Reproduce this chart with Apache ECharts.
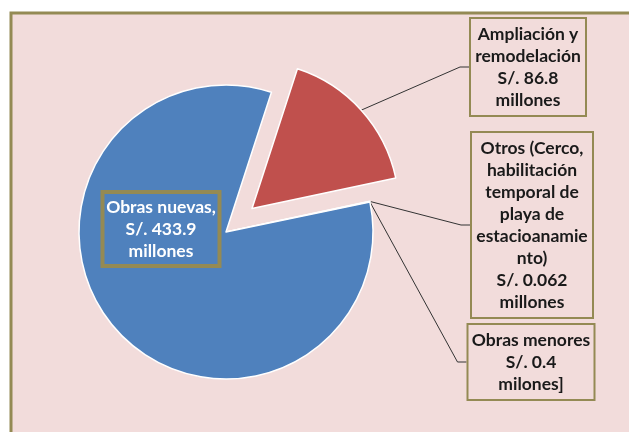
<!DOCTYPE html>
<html>
<head>
<meta charset="utf-8">
<script src="https://cdn.jsdelivr.net/npm/echarts@6/dist/echarts.min.js"></script>
<style>
  html, body { margin: 0; padding: 0; background: #ffffff; }
  #pie1 { width: 629px; height: 432px; }
</style>
</head>
<body>
<div id="pie1"></div>
<script>
// slices, in drawing order (clockwise)
const categories = [
  'Ampliación y remodelación',
  'Otros (Cerco, habilitación temporal de playa de estacioanamiento)',
  'Obras menores',
  'Obras nuevas'
]
const values = [86.8, 0.062, 0.4, 433.9]
const labelTexts = [
  'Ampliación y\nremodelación\nS/. 86.8\nmillones',
  'Otros (Cerco,\nhabilitación\ntemporal de\nplaya de\nestacioanamie\nnto)\nS/. 0.062\nmillones',
  'Obras menores\nS/. 0.4\nmilones]',
  'Obras nuevas,\nS/. 433.9\nmillones'
]
const colors = ['#c0504d', '#9bbb59', '#8064a2', '#4f81bd']

// where each label box sits (center) and its inner width
const boxPos = [[528, 67], [532, 225], [531, 362], [161, 229]]
const boxWidth = [110, 116, 121, 113]

const pieCenter = [226, 232]
const startAngle = 72
const explode = 35
const exploded = 0 // index of the pulled-out slice

// direction of the pulled-out slice, from the data
const total = values.reduce((a, b) => a + b, 0)
const before = values.slice(0, exploded).reduce((a, b) => a + b, 0)
const midDeg = startAngle - (before + values[exploded] / 2) / total * 360
const midRad = midDeg * Math.PI / 180
const explodedCenter = [
  pieCenter[0] + explode * Math.cos(midRad),
  pieCenter[1] - explode * Math.sin(midRad)
]

const chart = echarts.init(document.getElementById('pie1'))

function makeData (inThisSeries) {
  return categories.map((name, i) => {
    const own = inThisSeries(i)
    const inside = i === 3
    return {
      name: name,
      value: values[i],
      itemStyle: own ? { color: colors[i] } : { color: 'rgba(0,0,0,0)', borderWidth: 0 },
      label: {
        show: own,
        position: inside ? 'inside' : 'outside',
        color: inside ? '#ffffff' : '#1a1a1a',
        backgroundColor: inside ? 'transparent' : '#f2dcdb',
        width: boxWidth[i]
      },
      labelLine: { show: own && !inside }
    }
  })
}

const baseSeries = {
  type: 'pie',
  radius: 147,
  startAngle: startAngle,
  clockwise: true,
  emphasis: { disabled: true },
  itemStyle: { borderColor: '#ffffff', borderWidth: 1.5 },
  label: {
    formatter: p => labelTexts[p.dataIndex],
    fontFamily: 'Lato',
    fontWeight: 'bold',
    fontSize: 17.5,
    lineHeight: 22,
    align: 'center',
    borderColor: '#948a54',
    borderWidth: 2,
    padding: [4, 2, 4, 2]
  },
  labelLine: {
    length: 10,
    length2: 9,
    lineStyle: { color: '#333333', width: 1 }
  },
  labelLayout: p => ({
    x: boxPos[p.dataIndex][0],
    y: boxPos[p.dataIndex][1],
    align: 'center',
    verticalAlign: 'middle'
  })
}

const option = {
  animation: false,
  graphic: [{
    type: 'rect',
    silent: true,
    z: -10,
    shape: { x: 11, y: 13, width: 700, height: 500 },
    style: { fill: '#f2dcdb', stroke: '#948a54', lineWidth: 3 }
  }],
  series: [
    Object.assign({}, baseSeries, {
      center: pieCenter,
      data: makeData(i => i !== exploded)
    }),
    Object.assign({}, baseSeries, {
      center: explodedCenter,
      data: makeData(i => i === exploded)
    })
  ]
}
chart.setOption(option)
</script>
</body>
</html>
